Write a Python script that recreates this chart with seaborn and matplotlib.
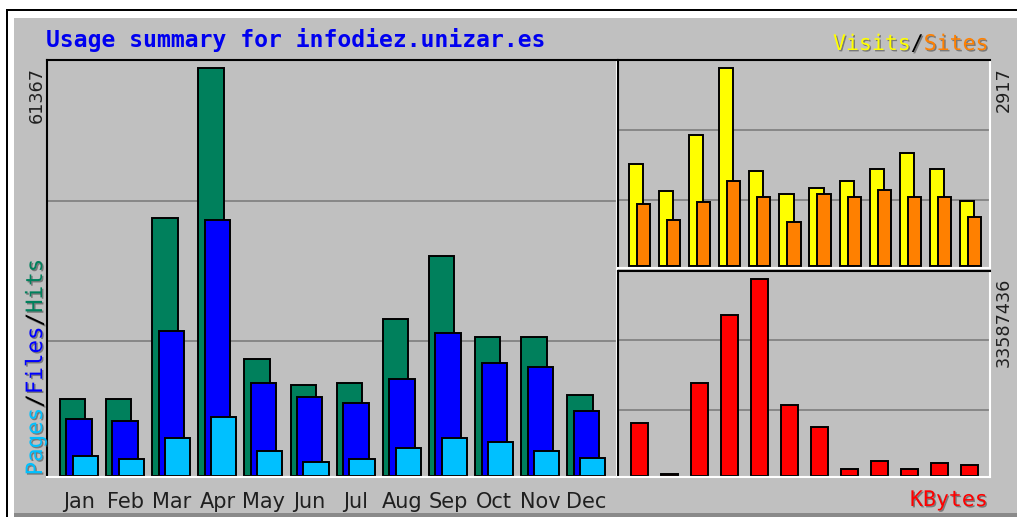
import numpy as np
import pandas as pd
import matplotlib
matplotlib.use("Agg")
import matplotlib.pyplot as plt
import matplotlib.patheffects as pe
from matplotlib.patches import Rectangle
import seaborn as sns

# ---------------- data ----------------
months = ["Jan", "Feb", "Mar", "Apr", "May", "Jun", "Jul", "Aug", "Sep", "Oct", "Nov", "Dec"]
hits = [11580, 11580, 38810, 61367, 17600, 13690, 13990, 23610, 33090, 20910, 20910, 12180]
files = [8570, 8270, 21810, 38500, 13990, 11880, 10980, 14590, 21510, 17000, 16400, 9780]
pages = [3010, 2560, 5720, 8870, 3760, 2110, 2560, 4210, 5720, 5110, 3760, 2710]
visits = [1496, 1096, 1925, 2917, 1392, 1051, 1140, 1244, 1421, 1658, 1421, 948]
sites = [903, 666, 933, 1244, 1007, 637, 1051, 1007, 1110, 1007, 1007, 711]
kbytes = [9036000, 420000, 15855000, 27449000, 33587436, 12105000, 8354000,
          1193000, 2557000, 1193000, 2216000, 1875000]

title = "Usage summary for infodiez.unizar.es"

# ---------------- style ----------------
sns.set_theme(style="white")
plt.rcParams["font.family"] = ["DejaVu Sans"]

W, H = 1017, 517
DPI = 100
fig = plt.figure(figsize=(W / DPI, H / DPI), dpi=DPI)
fig.patch.set_facecolor("white")

GRAY = "#C0C0C0"
C_HITS = "#00805C"
C_FILES = "#0000FF"
C_PAGES = "#00C0FF"
C_VISITS = "#FFFF00"
C_SITES = "#FF8000"
C_KBYTES = "#FF0000"


def fx(px):
    return px / W


def fy(py):
    return 1 - py / H


def frect(x0, y0, x1, y1, color):
    fig.patches.append(Rectangle((fx(x0), fy(y1)), fx(x1) - fx(x0), fy(y0) - fy(y1),
                                 transform=fig.transFigure, facecolor=color,
                                 edgecolor="none", zorder=-5))


# outer frame
frect(6, 9, W, H, "black")
frect(8, 11, W, H, "white")
frect(14, 18, W, H, GRAY)
frect(14, 513, W, H, "#8A8A8A")


def make_ax(x0, y0, x1, y1):
    ax = fig.add_axes([fx(x0), fy(y1), fx(x1) - fx(x0), fy(y0) - fy(y1)])
    ax.set_facecolor(GRAY)
    for s in ("left", "top"):
        ax.spines[s].set_color("black")
        ax.spines[s].set_linewidth(1.5)
    for s in ("right", "bottom"):
        ax.spines[s].set_color("white")
        ax.spines[s].set_linewidth(1.5)
    return ax


def bars(ax, vals, offset, width, color):
    df = pd.DataFrame({"pos": np.arange(len(vals)) + offset, "val": vals})
    sns.barplot(data=df, x="pos", y="val", native_scale=True, width=width,
                color=color, saturation=1, edgecolor="black", linewidth=1.4,
                errorbar=None, ax=ax, zorder=2)


def scale(ax, vmax, base_frac, top_frac):
    R = vmax / (top_frac - base_frac)
    lo = -base_frac * R
    ax.set_ylim(lo, lo + R)
    for f in (0.326, 0.663):
        ax.axhline(lo + f * R, color="#777777", lw=1.1, zorder=0.5)


def finish(ax, xl, xr):
    ax.set_xlim(xl, xr)
    ax.set_xlabel("")
    ax.set_ylabel("")
    ax.set_yticks([])
    ax.tick_params(axis="both", length=0)


# ---------------- main panel ----------------
ax1 = make_ax(47, 60, 617, 477)
bars(ax1, hits, -0.14, 0.55, C_HITS)
bars(ax1, files, 0.0, 0.55, C_FILES)
bars(ax1, pages, 0.135, 0.55, C_PAGES)
scale(ax1, max(hits), 1 / 417, 409 / 417)
finish(ax1, -0.694, 11.66)
ax1.set_xticks(np.arange(len(months)))
ax1.set_xticklabels(months, fontsize=15, color="#202020")
ax1.tick_params(axis="x", pad=11)

# ---------------- visits / sites ----------------
ax2 = make_ax(618, 60, 990, 268)
bars(ax2, visits, 0.0, 0.47, C_VISITS)
bars(ax2, sites, 0.25, 0.44, C_SITES)
scale(ax2, max(visits), 2.5 / 208, 200 / 208)
finish(ax2, -0.598, 11.765)
ax2.set_xticks([])

# ---------------- kbytes ----------------
ax3 = make_ax(618, 271, 990, 477)
bars(ax3, kbytes, 0.0, 0.57, C_KBYTES)
scale(ax3, max(kbytes), 1 / 206, 198 / 206)
finish(ax3, -0.717, 11.68)
ax3.set_xticks([])

# ---------------- texts ----------------
MONO = ["DejaVu Sans Mono"]
shadow = [pe.SimplePatchShadow(offset=(1, -1), shadow_rgbFace="#404040", alpha=0.55), pe.Normal()]

fig.text(fx(46), fy(40), title, fontsize=16.6, fontweight="bold", color="#0000F0",
         family=MONO, ha="left", va="center")

# Visits / Sites (right top)
parts = [(" Visits", C_VISITS), ("       /", "black"), ("        Sites", C_SITES)]
for s, c in parts:
    fig.text(fx(820), fy(44), s, fontsize=15.5, color=c, family=MONO,
             ha="left", va="center", path_effects=shadow)

# KBytes (right bottom)
fig.text(fx(988), fy(500), "KBytes", fontsize=15.5, color=C_KBYTES, family=MONO,
         ha="right", va="center", path_effects=shadow)

# Pages / Files / Hits (left vertical)
vparts = [(" Pages", C_PAGES), ("      /", "black"), ("       Files", C_FILES),
          ("            /", "black"), ("             Hits", C_HITS)]
for s, c in vparts:
    fig.text(fx(36), fy(489), s, fontsize=16.2, color=c, family=MONO, rotation=90,
             ha="center", va="bottom", path_effects=shadow)

# max values
fig.text(fx(37), fy(67), f"{max(hits)}", fontsize=12.7, color="#202020", rotation=90,
         ha="center", va="top")
fig.text(fx(1004), fy(67), f"{max(visits)}", fontsize=12.7, color="#202020", rotation=90,
         ha="center", va="top")
fig.text(fx(1004), fy(278), f"{max(kbytes)}", fontsize=12.7, color="#202020", rotation=90,
         ha="center", va="top")

fig.savefig("out.png", dpi=DPI, facecolor=fig.get_facecolor())
